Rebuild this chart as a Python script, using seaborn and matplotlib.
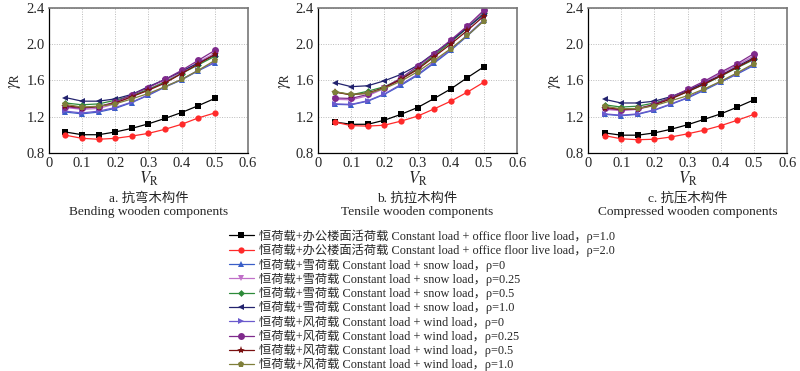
import numpy as np
import pandas as pd
import matplotlib
matplotlib.use("Agg")
import matplotlib.pyplot as plt
import seaborn as sns
from matplotlib.ticker import MultipleLocator, FuncFormatter

# ---------------- data ----------------
vr = [0.05, 0.10, 0.15, 0.20, 0.25, 0.30, 0.35, 0.40, 0.45, 0.50]

series_labels = [
    "恒荷载+办公楼面活荷载 Constant load + office floor live load，ρ=1.0",
    "恒荷载+办公楼面活荷载 Constant load + office floor live load，ρ=2.0",
    "恒荷载+雪荷载 Constant load + snow load，ρ=0",
    "恒荷载+雪荷载 Constant load + snow load，ρ=0.25",
    "恒荷载+雪荷载 Constant load + snow load，ρ=0.5",
    "恒荷载+雪荷载 Constant load + snow load，ρ=1.0",
    "恒荷载+风荷载 Constant load + wind load，ρ=0",
    "恒荷载+风荷载 Constant load + wind load，ρ=0.25",
    "恒荷载+风荷载 Constant load + wind load，ρ=0.5",
    "恒荷载+风荷载 Constant load + wind load，ρ=1.0",
]

# Panel a: bending
bend_office_10 = [1.03, 1.00, 1.00, 1.03, 1.07, 1.12, 1.18, 1.245, 1.32, 1.40]
bend_office_20 = [0.995, 0.96, 0.95, 0.96, 0.985, 1.015, 1.06, 1.115, 1.185, 1.24]
bend_snow_0 = [1.25, 1.23, 1.25, 1.29, 1.355, 1.435, 1.525, 1.605, 1.705, 1.795]
bend_snow_025 = [1.30, 1.28, 1.29, 1.34, 1.42, 1.50, 1.59, 1.69, 1.80, 1.90]
bend_snow_05 = [1.35, 1.33, 1.34, 1.38, 1.43, 1.50, 1.58, 1.675, 1.77, 1.865]
bend_snow_10 = [1.41, 1.37, 1.37, 1.395, 1.445, 1.53, 1.61, 1.70, 1.79, 1.88]
bend_wind_0 = [1.26, 1.24, 1.26, 1.30, 1.36, 1.44, 1.53, 1.61, 1.71, 1.80]
bend_wind_025 = [1.31, 1.29, 1.31, 1.36, 1.44, 1.52, 1.61, 1.71, 1.82, 1.93]
bend_wind_05 = [1.32, 1.30, 1.31, 1.35, 1.42, 1.49, 1.57, 1.675, 1.78, 1.885]
bend_wind_10 = [1.335, 1.305, 1.315, 1.34, 1.395, 1.455, 1.53, 1.61, 1.71, 1.82]

# Panel b: tensile
tens_office_10 = [1.14, 1.115, 1.115, 1.16, 1.225, 1.30, 1.40, 1.505, 1.63, 1.75]
tens_office_20 = [1.14, 1.10, 1.095, 1.105, 1.15, 1.205, 1.285, 1.37, 1.47, 1.58]
tens_snow_0 = [1.335, 1.33, 1.37, 1.445, 1.545, 1.655, 1.79, 1.93, 2.09, 2.26]
tens_snow_025 = [1.39, 1.385, 1.43, 1.51, 1.61, 1.74, 1.88, 2.03, 2.19, 2.36]
tens_snow_05 = [1.475, 1.44, 1.48, 1.53, 1.615, 1.73, 1.875, 2.02, 2.18, 2.34]
tens_snow_10 = [1.575, 1.53, 1.54, 1.595, 1.665, 1.765, 1.90, 2.035, 2.18, 2.33]
tens_wind_0 = [1.34, 1.335, 1.375, 1.45, 1.555, 1.665, 1.80, 1.94, 2.10, 2.27]
tens_wind_025 = [1.405, 1.40, 1.445, 1.52, 1.625, 1.755, 1.895, 2.045, 2.20, 2.375]
tens_wind_05 = [1.47, 1.44, 1.46, 1.52, 1.61, 1.72, 1.86, 2.00, 2.15, 2.31]
tens_wind_10 = [1.475, 1.445, 1.455, 1.51, 1.59, 1.695, 1.82, 1.95, 2.095, 2.255]

# Panel c: compressed
comp_office_10 = [1.02, 0.995, 0.995, 1.02, 1.06, 1.11, 1.17, 1.23, 1.305, 1.385]
comp_office_20 = [0.99, 0.955, 0.945, 0.95, 0.975, 1.01, 1.05, 1.10, 1.16, 1.225]
comp_snow_0 = [1.225, 1.21, 1.225, 1.27, 1.335, 1.405, 1.49, 1.58, 1.67, 1.765]
comp_snow_025 = [1.28, 1.265, 1.28, 1.325, 1.405, 1.49, 1.58, 1.675, 1.77, 1.87]
comp_snow_05 = [1.33, 1.305, 1.315, 1.35, 1.405, 1.475, 1.555, 1.645, 1.74, 1.83]
comp_snow_10 = [1.39, 1.35, 1.35, 1.37, 1.42, 1.49, 1.57, 1.655, 1.755, 1.85]
comp_wind_0 = [1.23, 1.215, 1.23, 1.275, 1.34, 1.41, 1.50, 1.585, 1.675, 1.775]
comp_wind_025 = [1.29, 1.275, 1.29, 1.335, 1.415, 1.50, 1.59, 1.69, 1.785, 1.895]
comp_wind_05 = [1.30, 1.28, 1.285, 1.33, 1.395, 1.475, 1.56, 1.65, 1.745, 1.84]
comp_wind_10 = [1.315, 1.285, 1.29, 1.32, 1.375, 1.43, 1.505, 1.59, 1.685, 1.785]

panel_titles = ["a. 抗弯木构件", "b. 抗拉木构件", "c. 抗压木构件"]
panel_subtitles = ["Bending wooden components", "Tensile wooden components",
                   "Compressed wooden components"]

panels = [
    [bend_office_10, bend_office_20, bend_snow_0, bend_snow_025, bend_snow_05,
     bend_snow_10, bend_wind_0, bend_wind_025, bend_wind_05, bend_wind_10],
    [tens_office_10, tens_office_20, tens_snow_0, tens_snow_025, tens_snow_05,
     tens_snow_10, tens_wind_0, tens_wind_025, tens_wind_05, tens_wind_10],
    [comp_office_10, comp_office_20, comp_snow_0, comp_snow_025, comp_snow_05,
     comp_snow_10, comp_wind_0, comp_wind_025, comp_wind_05, comp_wind_10],
]

# ---------------- style ----------------
colors = ["#000000", "#FF2A2A", "#3A5FC8", "#C070C8", "#2E8B3A",
          "#23236E", "#6A5ACD", "#7F2A8C", "#7A1010", "#7F7F3A"]
markers = ["s", "o", "^", "v", "D", "<", ">", "o", "*", "p"]
msizes = [4, 4.5, 4.5, 4.5, 3.5, 4.5, 4.5, 5, 6, 5]

sns.set_theme(style="white")
plt.rcParams["font.family"] = ["Liberation Serif", "Noto Sans CJK SC", "DejaVu Sans"]
plt.rcParams["mathtext.fontset"] = "stix"

rows = []
for p, plist in enumerate(panels):
    for s, vals in enumerate(plist):
        for x, y in zip(vr, vals):
            rows.append({"panel": p, "series": series_labels[s], "VR": x, "gamma": y})
df = pd.DataFrame(rows)


def xfmt(v, pos):
    if abs(v) < 1e-9:
        return "0"
    return f"{v:.1f}"


fig = plt.figure(figsize=(8.0, 3.71), dpi=100)
lefts = [0.061, 0.3975, 0.735]
axes = []
for i, l in enumerate(lefts):
    ax = fig.add_axes([l, 0.588, 0.249, 0.391])
    axes.append(ax)
    sub = df[df["panel"] == i]
    sns.lineplot(data=sub, x="VR", y="gamma", hue="series", style="series",
                 hue_order=series_labels, style_order=series_labels,
                 palette=colors, markers=markers, dashes=False,
                 linewidth=0.9, markeredgewidth=0, ax=ax, legend=(i == 0))
    for line, ms in zip(ax.lines, msizes):
        line.set_markersize(ms)
    ax.set_xlim(0, 0.6)
    ax.set_ylim(0.8, 2.4)
    ax.xaxis.set_major_locator(MultipleLocator(0.1))
    ax.xaxis.set_minor_locator(MultipleLocator(0.05))
    ax.xaxis.set_major_formatter(FuncFormatter(xfmt))
    ax.yaxis.set_major_locator(MultipleLocator(0.4))
    ax.yaxis.set_minor_locator(MultipleLocator(0.2))
    ax.yaxis.set_major_formatter(FuncFormatter(lambda v, p: f"{v:.1f}"))
    ax.tick_params(axis="both", which="both", direction="in", labelsize=10.5,
                   length=2.5, width=0.8, color="#333333", pad=3)
    ax.grid(True, which="major", linestyle=(0, (1, 1.5)), color="#BBBBBB", linewidth=0.7)
    for side in ["left", "bottom"]:
        ax.spines[side].set_color("#000000")
        ax.spines[side].set_linewidth(0.9)
    for side in ["top", "right"]:
        ax.spines[side].set_color("#777777")
        ax.spines[side].set_linewidth(1.2)
    ax.set_xlabel(r"$V_\mathrm{R}$", fontsize=12, labelpad=0)
    ax.set_ylabel(r"$\gamma_\mathrm{R}$", fontsize=12, labelpad=2)
    ax.text(0.5, -0.315, panel_titles[i], transform=ax.transAxes, ha="center",
            va="center", fontsize=9.6)
    ax.text(0.5, -0.41, panel_subtitles[i], transform=ax.transAxes, ha="center",
            va="center", fontsize=9.6)

handles, labels = axes[0].get_legend_handles_labels()
axes[0].get_legend().remove()
for h, ms in zip(handles, msizes):
    h.set_markersize(ms)
fig.legend(handles, labels, loc="upper center", bbox_to_anchor=(0.527, 0.402),
           frameon=False, fontsize=8.8, labelspacing=0.1, handlelength=2.1,
           handletextpad=0.35, borderpad=0.1)

fig.savefig("out.png", dpi=100)
